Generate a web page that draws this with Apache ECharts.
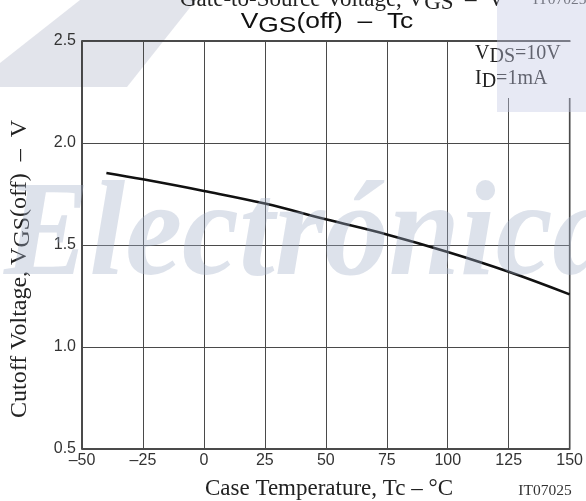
<!DOCTYPE html>
<html>
<head>
<meta charset="utf-8">
<script src="https://cdn.jsdelivr.net/npm/echarts@6/dist/echarts.min.js"></script>
<style>
  html, body { margin: 0; padding: 0; background: #fff; }
  #chart { width: 586px; height: 501px; }
</style>
</head>
<body>
<div id="chart"></div>
<script>
// case temperature (°C) and cutoff voltage
const temps = [-40, -25, 0, 25, 50, 75, 100, 125, 150];
const vgsOff = [1.853, 1.822, 1.765, 1.703, 1.626, 1.552, 1.466, 1.369, 1.258];

const xTicks = { min: -50, max: 150, step: 25 };
const yTicks = { min: 0.5, max: 2.5, step: 0.5 };

const serif = '"Liberation Serif", "DejaVu Serif", serif';
const sans = '"Liberation Sans", Arial, sans-serif';

const chart = echarts.init(document.getElementById('chart'), null, { renderer: 'canvas' });

const fmtMinus = (v) => (v < 0 ? '\u2013' + Math.abs(v) : String(v));
// same-size subscript, just dropped below the baseline
const sub = (family, size, shift) => ({
  s: { fontFamily: family, fontSize: size, padding: [shift, 0, 0, 0] },
});

chart.setOption({
  backgroundColor: '#fff',
  animation: false,
  grid: {
    left: 82, right: 13, top: 41, bottom: 52,
    show: true, borderColor: '#111', borderWidth: 1.5, backgroundColor: 'transparent',
  },
  xAxis: {
    type: 'value',
    min: xTicks.min, max: xTicks.max, interval: xTicks.step,
    axisLine: { show: false },
    axisTick: { show: false },
    axisLabel: { color: '#333', fontFamily: sans, fontSize: 16, margin: 4, formatter: fmtMinus },
    splitLine: { lineStyle: { color: '#4a4a4a', width: 1 } },
  },
  yAxis: {
    type: 'value',
    min: yTicks.min, max: yTicks.max, interval: yTicks.step,
    axisLine: { show: false },
    axisTick: { show: false },
    axisLabel: { color: '#333', fontFamily: sans, fontSize: 16, margin: 6, formatter: (v) => v.toFixed(1) },
    splitLine: { lineStyle: { color: '#4a4a4a', width: 1 } },
  },
  series: [{
    type: 'line',
    data: temps.map((t, i) => [t, vgsOff[i]]),
    showSymbol: false,
    smooth: 0.4,
    lineStyle: { color: '#111', width: 2.6 },
    z: 3,
  }],
  graphic: [
    // faint scan artefacts
    {
      type: 'polygon', z: -10, silent: true,
      shape: { points: [[0, 63], [80, 0], [196, 0], [127, 87], [0, 87]] },
      style: { fill: 'rgba(190,195,210,0.45)' },
    },
    // white box behind the test conditions
    {
      type: 'rect', z: 5, silent: true,
      shape: { x: 468, y: 42, width: 104, height: 56 },
      style: { fill: '#fff' },
    },
    {
      type: 'rect', z: 100, silent: true,
      shape: { x: 497, y: 0, width: 89, height: 112 },
      style: { fill: 'rgba(195,200,228,0.4)' },
    },
    // leftover text from the chart above, cut by the page edge
    {
      type: 'text', x: 180, y: 0, z: 10,
      style: {
        text: 'Gate-to-Source Voltage, V{s|GS}  \u2013  V',
        fontFamily: serif, fontSize: 23, fill: '#222', verticalAlign: 'middle',
        rich: sub(serif, 23, 6),
      },
    },
    {
      type: 'text', x: 533, y: 0, z: 10,
      style: { text: 'IT07025', fontFamily: serif, fontSize: 15.5, fill: '#444', verticalAlign: 'middle' },
    },
    // title
    {
      type: 'text', x: 327, y: 22, z: 10, scaleX: 1.2,
      style: {
        text: 'V{s|GS}(off)  \u2013  Tc',
        fontFamily: sans, fontSize: 22, fill: '#111',
        align: 'center', verticalAlign: 'middle',
        rich: sub(sans, 22, 7),
      },
    },
    // test conditions
    {
      type: 'text', x: 475, y: 54, z: 10,
      style: {
        text: 'V{s|DS}=10V',
        fontFamily: serif, fontSize: 20, fill: '#222', verticalAlign: 'middle',
        rich: sub(serif, 20, 5),
      },
    },
    {
      type: 'text', x: 475, y: 79, z: 10,
      style: {
        text: 'I{s|D}=1mA',
        fontFamily: serif, fontSize: 20, fill: '#222', verticalAlign: 'middle',
        rich: sub(serif, 20, 5),
      },
    },
    // axis names
    {
      type: 'text', x: 20, y: 269, rotation: Math.PI / 2, z: 10,
      style: {
        text: 'Cutoff Voltage, V{s|GS}(off)  \u2013  V',
        fontFamily: serif, fontSize: 24, fill: '#222',
        align: 'center', verticalAlign: 'middle',
        rich: sub(serif, 24, 6),
      },
    },
    {
      type: 'text', x: 329, y: 489, z: 10,
      style: {
        text: 'Case Temperature, Tc \u2013 \u00B0C',
        fontFamily: serif, fontSize: 23, fill: '#222',
        align: 'center', verticalAlign: 'middle',
      },
    },
    {
      type: 'text', x: 545, y: 491, z: 10,
      style: {
        text: 'IT07025', fontFamily: serif, fontSize: 15.5, fill: '#333',
        align: 'center', verticalAlign: 'middle',
      },
    },
    // watermark over the plot
    {
      type: 'text', x: 4, y: 239, z: 50, silent: true, scaleX: 0.95,
      style: {
        text: 'Electrónica',
        fontFamily: serif, fontSize: 135, fontWeight: 'bold', fontStyle: 'italic',
        fill: 'rgba(160,175,200,0.36)', verticalAlign: 'middle',
      },
    },
  ],
});
</script>
</body>
</html>
